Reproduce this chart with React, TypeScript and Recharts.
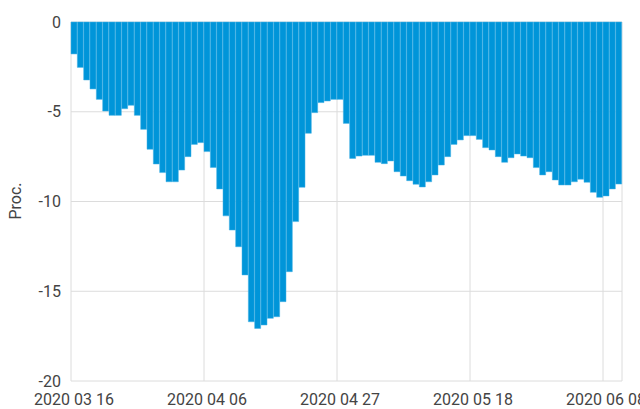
import React from 'react';
import { BarChart, Bar, XAxis, YAxis, CartesianGrid } from 'recharts';

// daily change, 2020-03-16 .. 2020-06-10
const values = [
  -1.78, -2.53, -3.23, -3.73, -4.31, -4.96, -5.2, -5.2, -4.83, -4.64,
  -5.2, -5.98, -7.09, -7.91, -8.39, -8.9, -8.9, -8.25, -7.5, -6.82,
  -6.72, -7.22, -8.1, -9.3, -10.8, -11.59, -12.52, -14.09, -16.7, -17.07,
  -16.88, -16.51, -16.42, -15.58, -13.91, -11.12, -9.21, -6.2, -5.05, -4.49,
  -4.4, -4.31, -4.31, -5.65, -7.6, -7.47, -7.43, -7.43, -7.82, -7.89,
  -7.74, -8.34, -8.58, -8.84, -9.04, -9.19, -8.9, -8.52, -7.97, -7.5,
  -6.82, -6.57, -6.33, -6.33, -6.54, -7.0, -7.13, -7.5, -7.82, -7.56,
  -7.35, -7.47, -7.56, -8.11, -8.52, -8.34, -8.8, -9.08, -9.08, -8.9,
  -8.76, -8.93, -9.49, -9.77, -9.69, -9.3, -9.03,
];

const tickPositions = [0, 21, 42, 63, 84, 87];
const tickLabels = ['2020 03 16', '2020 04 06', '2020 04 27', '2020 05 18', '2020 06 08', ''];
const yTicks = [0, -5, -10, -15, -20];

const fmt = (d: Date) =>
  `${d.getUTCFullYear()} ${String(d.getUTCMonth() + 1).padStart(2, '0')} ${String(d.getUTCDate()).padStart(2, '0')}`;

const data = values.map((v, i) => ({
  date: fmt(new Date(Date.UTC(2020, 2, 16 + i))),
  pos: i + 0.5,
  value: v,
}));

const textStyle = { fill: '#444', fontSize: 16, fontFamily: 'Roboto' };

const ProcLabel = () => (
  <text
    x={21}
    y={201}
    transform="rotate(-90 21 201)"
    textAnchor="middle"
    fill="#444"
    fontSize={16}
    fontFamily="Roboto"
  >
    Proc.
  </text>
);

export default function App() {
  return (
    <div style={{ position: 'absolute', left: 0, top: 0, width: 640, height: 409, background: '#fff' }}>
      <BarChart
        width={640}
        height={409}
        data={data}
        margin={{ top: 22, right: 18, bottom: 0, left: 0 }}
        barCategoryGap={0}
      >
        <CartesianGrid stroke="#dcdcdc" />
        <XAxis
          dataKey="pos"
          type="number"
          domain={[0, 87]}
          allowDataOverflow
          ticks={tickPositions}
          tickFormatter={(v: number) => tickLabels[tickPositions.indexOf(v)] ?? ''}
          tick={{ ...textStyle, dx: 3 }}
          tickLine={false}
          axisLine={false}
          tickSize={0}
          tickMargin={13}
          height={28}
          interval={0}
        />
        <XAxis xAxisId="cat" dataKey="date" hide />
        <YAxis
          domain={[-20, 0]}
          ticks={yTicks}
          tick={textStyle}
          tickLine={false}
          axisLine={false}
          tickSize={0}
          tickMargin={10}
          width={71}
          label={<ProcLabel />}
        />
        <Bar
          xAxisId="cat"
          dataKey="value"
          fill="#0095d9"
          stroke="#45b0e4"
          strokeWidth={0.5}
          isAnimationActive={false}
        />
      </BarChart>
    </div>
  );
}
